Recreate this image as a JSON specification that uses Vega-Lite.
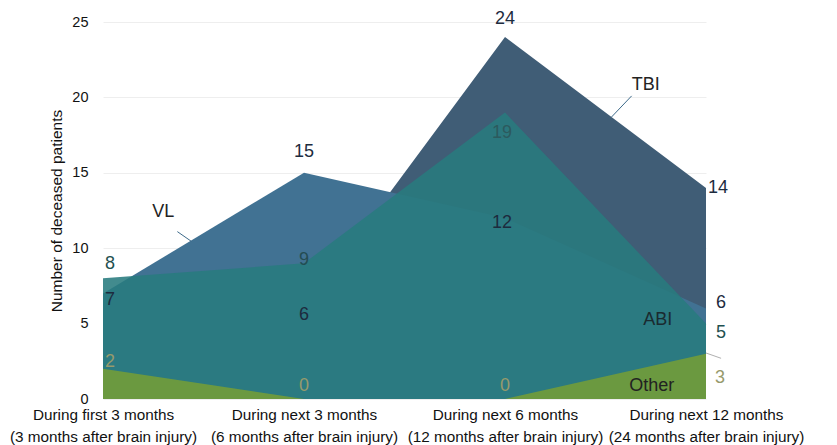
{
  "$schema": "https://vega.github.io/schema/vega-lite/v6.json",
  "width": 603,
  "height": 377,
  "autosize": {"type": "none"},
  "padding": {"left": 103, "top": 22, "right": 131, "bottom": 46},
  "background": "white",
  "config": {"view": {"stroke": null}, "font": "Liberation Sans"},
  "datasets": {
    "deaths": [
      {"series": "TBI", "t": 0, "deaths": 2},
      {"series": "TBI", "t": 1, "deaths": 6},
      {"series": "TBI", "t": 2, "deaths": 24},
      {"series": "TBI", "t": 3, "deaths": 14},
      {"series": "VL", "t": 0, "deaths": 7},
      {"series": "VL", "t": 1, "deaths": 15},
      {"series": "VL", "t": 2, "deaths": 12},
      {"series": "VL", "t": 3, "deaths": 6},
      {"series": "ABI", "t": 0, "deaths": 8},
      {"series": "ABI", "t": 1, "deaths": 9},
      {"series": "ABI", "t": 2, "deaths": 19},
      {"series": "ABI", "t": 3, "deaths": 5},
      {"series": "Other", "t": 0, "deaths": 2},
      {"series": "Other", "t": 1, "deaths": 0},
      {"series": "Other", "t": 2, "deaths": 0},
      {"series": "Other", "t": 3, "deaths": 3}
    ]
  },
  "data": {"name": "deaths"},
  "encoding": {
    "x": {
      "field": "t", "type": "quantitative",
      "scale": {"domain": [0, 3], "nice": false, "zero": false},
      "axis": {
        "values": [0, 1, 2, 3], "title": null, "grid": false, "domain": false, "ticks": false,
        "labelExpr": "datum.value == 0 ? ['During first 3 months', '(3 months after brain injury)'] : datum.value == 1 ? ['During next 3 months', '(6 months after brain injury)'] : datum.value == 2 ? ['During next 6 months', '(12 months after brain injury)'] : ['During next 12 months', '(24 months after brain injury)']",
        "labelFontSize": 15.3, "labelColor": "#111", "labelPadding": 8, "labelLineHeight": 22, "labelLimit": 0,
        "labelFlush": false, "labelOverlap": false, "labelBound": false, "labelBaseline": "top"
      }
    },
    "y": {
      "field": "deaths", "type": "quantitative",
      "scale": {"domain": [0, 25], "nice": false},
      "axis": {
        "values": [0, 5, 10, 15, 20, 25], "title": "Number of deceased patients",
        "titleFontSize": 15.5, "titleFontWeight": "normal", "titleColor": "#111", "titlePadding": 7,
        "domain": false, "ticks": false, "labelPadding": 15, "labelFontSize": 14.5, "labelColor": "#111",
        "gridColor": "#eeeeee", "gridWidth": 1
      }
    }
  },
  "layer": [
    {"transform": [{"filter": "datum.series == 'TBI'"}], "mark": {"type": "area", "color": "#405d76", "opacity": 1}},
    {"transform": [{"filter": "datum.series == 'VL'"}], "mark": {"type": "area", "color": "#417293", "opacity": 1}},
    {"transform": [{"filter": "datum.series == 'ABI'"}], "mark": {"type": "area", "color": "#287b7e", "opacity": 0.88}},
    {"transform": [{"filter": "datum.series == 'Other'"}], "mark": {"type": "area", "color": "#6d9a3e", "opacity": 0.97}},

    {"transform": [{"filter": "datum.series == 'ABI' && datum.t == 0"}], "mark": {"type": "text", "fontSize": 18, "align": "left", "baseline": "middle", "dx": 2, "dy": -14, "color": "#1f5050"}, "encoding": {"text": {"field": "deaths"}}},
    {"transform": [{"filter": "datum.series == 'VL' && datum.t == 0"}], "mark": {"type": "text", "fontSize": 18, "align": "left", "baseline": "middle", "dx": 2, "dy": 7, "color": "#1d2b3e"}, "encoding": {"text": {"field": "deaths"}}},
    {"transform": [{"filter": "datum.series == 'Other' && datum.t == 0"}], "mark": {"type": "text", "fontSize": 18, "align": "left", "baseline": "middle", "dx": 2, "dy": -7, "color": "#979a6c"}, "encoding": {"text": {"field": "deaths"}}},

    {"transform": [{"filter": "datum.series == 'VL' && datum.t == 1"}], "mark": {"type": "text", "fontSize": 18, "align": "center", "baseline": "middle", "dy": -21, "color": "#1d2b3e"}, "encoding": {"text": {"field": "deaths"}}},
    {"transform": [{"filter": "datum.series == 'ABI' && datum.t == 1"}], "mark": {"type": "text", "fontSize": 18, "align": "center", "baseline": "middle", "dy": -3, "color": "#244c52"}, "encoding": {"text": {"field": "deaths"}}},
    {"transform": [{"filter": "datum.series == 'TBI' && datum.t == 1"}], "mark": {"type": "text", "fontSize": 18, "align": "center", "baseline": "middle", "dy": 6, "color": "#1d2b3e"}, "encoding": {"text": {"field": "deaths"}}},
    {"transform": [{"filter": "datum.series == 'Other' && (datum.t == 1 || datum.t == 2)"}], "mark": {"type": "text", "fontSize": 18, "align": "center", "baseline": "middle", "dy": -13, "color": "#979a6c"}, "encoding": {"text": {"field": "deaths"}}},

    {"transform": [{"filter": "datum.series == 'TBI' && datum.t == 2"}], "mark": {"type": "text", "fontSize": 18, "align": "center", "baseline": "middle", "dy": -18, "color": "#1d2b3e"}, "encoding": {"text": {"field": "deaths"}}},
    {"transform": [{"filter": "datum.series == 'ABI' && datum.t == 2"}], "mark": {"type": "text", "fontSize": 18, "align": "center", "baseline": "middle", "dx": -3, "dy": 21, "color": "#2c5a5e"}, "encoding": {"text": {"field": "deaths"}}},
    {"transform": [{"filter": "datum.series == 'VL' && datum.t == 2"}], "mark": {"type": "text", "fontSize": 18, "align": "center", "baseline": "middle", "dx": -3, "dy": 5, "color": "#1d2b3e"}, "encoding": {"text": {"field": "deaths"}}},

    {"transform": [{"filter": "datum.series == 'TBI' && datum.t == 3"}], "mark": {"type": "text", "fontSize": 18, "align": "left", "baseline": "middle", "dx": 2, "dy": 0, "color": "#1d2b3e"}, "encoding": {"text": {"field": "deaths"}}},
    {"transform": [{"filter": "datum.series == 'VL' && datum.t == 3"}], "mark": {"type": "text", "fontSize": 18, "align": "left", "baseline": "middle", "dx": 10, "dy": -6, "color": "#1d2b3e"}, "encoding": {"text": {"field": "deaths"}}},
    {"transform": [{"filter": "datum.series == 'ABI' && datum.t == 3"}], "mark": {"type": "text", "fontSize": 18, "align": "left", "baseline": "middle", "dx": 10, "dy": 9, "color": "#1f5050"}, "encoding": {"text": {"field": "deaths"}}},
    {"transform": [{"filter": "datum.series == 'Other' && datum.t == 3"}], "mark": {"type": "text", "fontSize": 18, "align": "left", "baseline": "middle", "dx": 9, "dy": 24, "color": "#979a6c"}, "encoding": {"text": {"field": "deaths"}}},

    {"transform": [{"filter": "datum.series == 'TBI' && datum.t == 0"}], "mark": {"type": "rule", "color": "#3d6a8a", "strokeWidth": 1}, "encoding": {"x": {"datum": 0.37, "type": "quantitative"}, "y": {"datum": 11.1, "type": "quantitative"}, "x2": {"datum": 0.44}, "y2": {"datum": 10.45}}},
    {"transform": [{"filter": "datum.series == 'TBI' && datum.t == 0"}], "mark": {"type": "rule", "color": "#3d6a8a", "strokeWidth": 1}, "encoding": {"x": {"datum": 2.63, "type": "quantitative"}, "y": {"datum": 20.1, "type": "quantitative"}, "x2": {"datum": 2.53}, "y2": {"datum": 18.7}}},
    {"transform": [{"filter": "datum.series == 'TBI' && datum.t == 0"}], "mark": {"type": "rule", "color": "#b0b0b0", "strokeWidth": 1}, "encoding": {"x": {"datum": 3.0, "type": "quantitative"}, "y": {"datum": 3.05, "type": "quantitative"}, "x2": {"datum": 3.075}, "y2": {"datum": 2.7}}},

    {"transform": [{"filter": "datum.series == 'TBI' && datum.t == 0"}], "mark": {"type": "text", "fontSize": 18, "color": "#222", "align": "center", "baseline": "middle"}, "encoding": {"text": {"value": "VL"}, "x": {"datum": 0.3, "type": "quantitative"}, "y": {"datum": 12.4, "type": "quantitative"}}},
    {"transform": [{"filter": "datum.series == 'TBI' && datum.t == 0"}], "mark": {"type": "text", "fontSize": 18, "color": "#222", "align": "center", "baseline": "middle"}, "encoding": {"text": {"value": "TBI"}, "x": {"datum": 2.7, "type": "quantitative"}, "y": {"datum": 20.8, "type": "quantitative"}}},
    {"transform": [{"filter": "datum.series == 'TBI' && datum.t == 0"}], "mark": {"type": "text", "fontSize": 18, "color": "#1a2a30", "align": "center", "baseline": "middle"}, "encoding": {"text": {"value": "ABI"}, "x": {"datum": 2.76, "type": "quantitative"}, "y": {"datum": 5.24, "type": "quantitative"}}},
    {"transform": [{"filter": "datum.series == 'TBI' && datum.t == 0"}], "mark": {"type": "text", "fontSize": 18, "color": "#222", "align": "center", "baseline": "middle"}, "encoding": {"text": {"value": "Other"}, "x": {"datum": 2.73, "type": "quantitative"}, "y": {"datum": 0.86, "type": "quantitative"}}}
  ]
}
